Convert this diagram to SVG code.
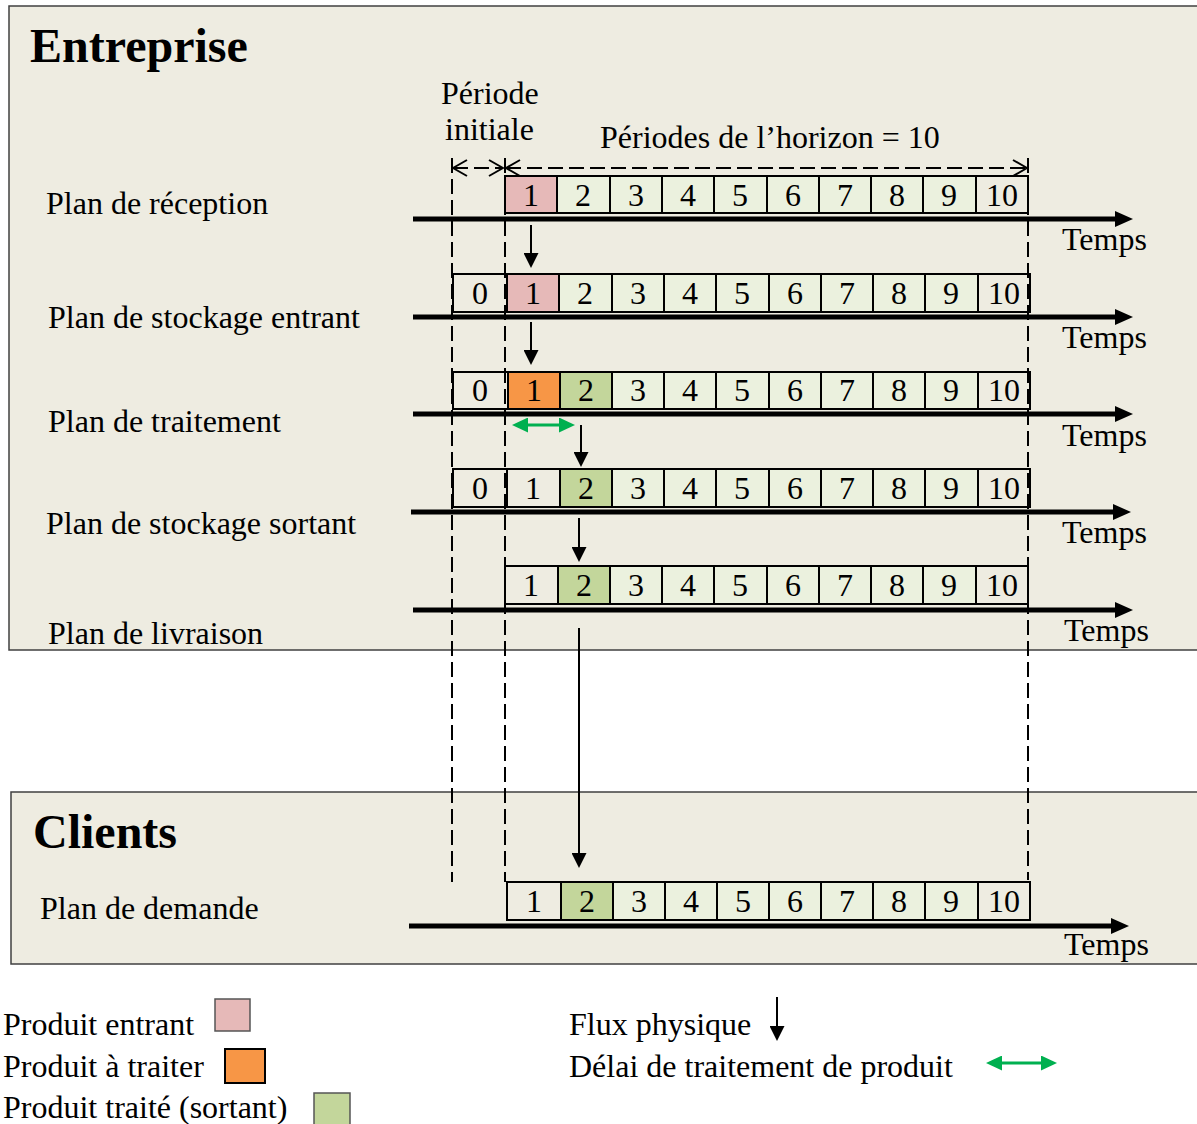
<svg xmlns="http://www.w3.org/2000/svg" width="1197" height="1124" viewBox="0 0 1197 1124" font-family="'Liberation Serif', 'Times New Roman', Tinos, serif">
<style>
text{font-family:'Liberation Serif','Times New Roman',Tinos,serif;fill:#000}
.t{font-size:32px}
.h{font-size:48px;font-weight:bold}
.d{font-size:32px;text-anchor:middle}
.c{stroke:#000;stroke-width:2}
.bg{fill:#EEECE1}
.pg{fill:#EBF1DE}
.pk{fill:#E6B9B8}
.or{fill:#F79646}
.gr{fill:#C3D69B}
.ax{stroke:#000;stroke-width:5;fill:none}
.ds{stroke:#000;stroke-width:2;stroke-dasharray:15 6;fill:none}
.fl{stroke:#000;stroke-width:2;fill:none}
</style>
<defs>
<marker id="ah" markerWidth="18" markerHeight="16" refX="0" refY="8" orient="auto" markerUnits="userSpaceOnUse">
<path d="M0,0 L18,8 L0,16 z" fill="#000"/>
</marker>
<marker id="fa" markerWidth="15" markerHeight="15" refX="0" refY="7.5" orient="auto" markerUnits="userSpaceOnUse">
<path d="M0,0 L15,7.5 L0,15 z" fill="#000"/>
</marker>
<marker id="ga" markerWidth="16" markerHeight="15" refX="0" refY="7.5" orient="auto-start-reverse" markerUnits="userSpaceOnUse">
<path d="M0,0 L16,7.5 L0,15 z" fill="#00B050"/>
</marker>
<marker id="oa" markerWidth="16" markerHeight="20" refX="15" refY="10" orient="auto-start-reverse" markerUnits="userSpaceOnUse">
<path d="M1,2 L15,10 L1,18" fill="none" stroke="#000" stroke-width="2"/>
</marker>
</defs>

<g id="panel-entreprise">
<rect x="9" y="6" width="1200" height="644" fill="#EEECE1" stroke="#404040" stroke-width="1.5"/>
<text class="h" x="30" y="62">Entreprise</text>
</g>
<g id="panel-clients">
<rect x="11" y="792" width="1200" height="172" fill="#EEECE1" stroke="#404040" stroke-width="1.5"/>
<text class="h" x="33" y="848">Clients</text>
</g>

<g id="header">
<text class="t" x="441" y="104">Période</text>
<text class="t" x="445" y="140">initiale</text>
<text class="t" x="600" y="148">Périodes de l’horizon = 10</text>
</g>

<g id="row-reception">
<text class="t" x="46" y="214">Plan de réception</text>
<rect class="c pk" x="505" y="176" width="52" height="37"/>
<rect class="c pg" x="557" y="176" width="53" height="37"/>
<rect class="c pg" x="610" y="176" width="52" height="37"/>
<rect class="c pg" x="662" y="176" width="52" height="37"/>
<rect class="c pg" x="714" y="176" width="53" height="37"/>
<rect class="c pg" x="767" y="176" width="52" height="37"/>
<rect class="c pg" x="819" y="176" width="52" height="37"/>
<rect class="c pg" x="871" y="176" width="52" height="37"/>
<rect class="c pg" x="923" y="176" width="53" height="37"/>
<rect class="c bg" x="976" y="176" width="52" height="37"/>
<text class="d" x="531" y="206">1</text><text class="d" x="583" y="206">2</text><text class="d" x="636" y="206">3</text><text class="d" x="688" y="206">4</text><text class="d" x="740" y="206">5</text><text class="d" x="793" y="206">6</text><text class="d" x="845" y="206">7</text><text class="d" x="897" y="206">8</text><text class="d" x="949" y="206">9</text><text class="d" x="1002" y="206">10</text>
<line class="ax" x1="413" y1="219" x2="1115" y2="219" marker-end="url(#ah)"/>
<text class="t" x="1062" y="250">Temps</text>
</g>

<g id="row-stockage-entrant">
<text class="t" x="48" y="328">Plan de stockage entrant</text>
<rect class="c bg" x="453" y="274" width="54" height="38"/>
<rect class="c pk" x="507" y="274" width="52" height="38"/>
<rect class="c pg" x="559" y="274" width="53" height="38"/>
<rect class="c pg" x="612" y="274" width="52" height="38"/>
<rect class="c pg" x="664" y="274" width="52" height="38"/>
<rect class="c pg" x="716" y="274" width="53" height="38"/>
<rect class="c pg" x="769" y="274" width="52" height="38"/>
<rect class="c pg" x="821" y="274" width="52" height="38"/>
<rect class="c pg" x="873" y="274" width="52" height="38"/>
<rect class="c pg" x="925" y="274" width="53" height="38"/>
<rect class="c bg" x="978" y="274" width="52" height="38"/>
<text class="d" x="480" y="304">0</text><text class="d" x="533" y="304">1</text><text class="d" x="585" y="304">2</text><text class="d" x="638" y="304">3</text><text class="d" x="690" y="304">4</text><text class="d" x="742" y="304">5</text><text class="d" x="795" y="304">6</text><text class="d" x="847" y="304">7</text><text class="d" x="899" y="304">8</text><text class="d" x="951" y="304">9</text><text class="d" x="1004" y="304">10</text>
<line class="ax" x1="413" y1="317" x2="1115" y2="317" marker-end="url(#ah)"/>
<text class="t" x="1062" y="348">Temps</text>
</g>

<g id="row-traitement">
<text class="t" x="48" y="432">Plan de traitement</text>
<rect class="c bg" x="453" y="372" width="55" height="37"/>
<rect class="c or" x="508" y="372" width="52" height="37"/>
<rect class="c gr" x="560" y="372" width="52" height="37"/>
<rect class="c pg" x="612" y="372" width="52" height="37"/>
<rect class="c pg" x="664" y="372" width="52" height="37"/>
<rect class="c pg" x="716" y="372" width="53" height="37"/>
<rect class="c pg" x="769" y="372" width="52" height="37"/>
<rect class="c pg" x="821" y="372" width="52" height="37"/>
<rect class="c pg" x="873" y="372" width="52" height="37"/>
<rect class="c pg" x="925" y="372" width="53" height="37"/>
<rect class="c bg" x="978" y="372" width="52" height="37"/>
<text class="d" x="480" y="401">0</text><text class="d" x="534" y="401">1</text><text class="d" x="586" y="401">2</text><text class="d" x="638" y="401">3</text><text class="d" x="690" y="401">4</text><text class="d" x="742" y="401">5</text><text class="d" x="795" y="401">6</text><text class="d" x="847" y="401">7</text><text class="d" x="899" y="401">8</text><text class="d" x="951" y="401">9</text><text class="d" x="1004" y="401">10</text>
<line class="ax" x1="413" y1="414" x2="1115" y2="414" marker-end="url(#ah)"/>
<text class="t" x="1062" y="446">Temps</text>
</g>

<g id="row-stockage-sortant">
<text class="t" x="46" y="534">Plan de stockage sortant</text>
<rect class="c bg" x="453" y="469" width="54" height="38"/>
<rect class="c bg" x="507" y="469" width="53" height="38"/>
<rect class="c gr" x="560" y="469" width="52" height="38"/>
<rect class="c pg" x="612" y="469" width="52" height="38"/>
<rect class="c pg" x="664" y="469" width="52" height="38"/>
<rect class="c pg" x="716" y="469" width="53" height="38"/>
<rect class="c pg" x="769" y="469" width="52" height="38"/>
<rect class="c pg" x="821" y="469" width="52" height="38"/>
<rect class="c pg" x="873" y="469" width="52" height="38"/>
<rect class="c pg" x="925" y="469" width="53" height="38"/>
<rect class="c bg" x="978" y="469" width="52" height="38"/>
<text class="d" x="480" y="499">0</text><text class="d" x="533" y="499">1</text><text class="d" x="586" y="499">2</text><text class="d" x="638" y="499">3</text><text class="d" x="690" y="499">4</text><text class="d" x="742" y="499">5</text><text class="d" x="795" y="499">6</text><text class="d" x="847" y="499">7</text><text class="d" x="899" y="499">8</text><text class="d" x="951" y="499">9</text><text class="d" x="1004" y="499">10</text>
<line class="ax" x1="411" y1="512" x2="1113" y2="512" marker-end="url(#ah)"/>
<text class="t" x="1062" y="543">Temps</text>
</g>

<g id="row-livraison">
<text class="t" x="48" y="644">Plan de livraison</text>
<rect class="c bg" x="505" y="566" width="53" height="38"/>
<rect class="c gr" x="558" y="566" width="52" height="38"/>
<rect class="c pg" x="610" y="566" width="52" height="38"/>
<rect class="c pg" x="662" y="566" width="52" height="38"/>
<rect class="c pg" x="714" y="566" width="53" height="38"/>
<rect class="c pg" x="767" y="566" width="52" height="38"/>
<rect class="c pg" x="819" y="566" width="52" height="38"/>
<rect class="c pg" x="871" y="566" width="52" height="38"/>
<rect class="c pg" x="923" y="566" width="53" height="38"/>
<rect class="c bg" x="976" y="566" width="52" height="38"/>
<text class="d" x="531" y="596">1</text><text class="d" x="584" y="596">2</text><text class="d" x="636" y="596">3</text><text class="d" x="688" y="596">4</text><text class="d" x="740" y="596">5</text><text class="d" x="793" y="596">6</text><text class="d" x="845" y="596">7</text><text class="d" x="897" y="596">8</text><text class="d" x="949" y="596">9</text><text class="d" x="1002" y="596">10</text>
<line class="ax" x1="413" y1="610" x2="1115" y2="610" marker-end="url(#ah)"/>
<text class="t" x="1064" y="641">Temps</text>
</g>

<g id="row-demande">
<text class="t" x="40" y="919">Plan de demande</text>
<rect class="c bg" x="507" y="882" width="54" height="38"/>
<rect class="c gr" x="561" y="882" width="52" height="38"/>
<rect class="c pg" x="613" y="882" width="52" height="38"/>
<rect class="c pg" x="665" y="882" width="52" height="38"/>
<rect class="c pg" x="717" y="882" width="52" height="38"/>
<rect class="c pg" x="769" y="882" width="52" height="38"/>
<rect class="c pg" x="821" y="882" width="52" height="38"/>
<rect class="c pg" x="873" y="882" width="52" height="38"/>
<rect class="c pg" x="925" y="882" width="53" height="38"/>
<rect class="c bg" x="978" y="882" width="52" height="38"/>
<text class="d" x="534" y="912">1</text><text class="d" x="587" y="912">2</text><text class="d" x="639" y="912">3</text><text class="d" x="691" y="912">4</text><text class="d" x="743" y="912">5</text><text class="d" x="795" y="912">6</text><text class="d" x="847" y="912">7</text><text class="d" x="899" y="912">8</text><text class="d" x="951" y="912">9</text><text class="d" x="1004" y="912">10</text>
<line class="ax" x1="409" y1="926" x2="1111" y2="926" marker-end="url(#ah)"/>
<text class="t" x="1064" y="955">Temps</text>
</g>

<g id="connectors">
<line class="ds" x1="452" y1="158" x2="452" y2="882"/>
<line class="ds" x1="505" y1="158" x2="505" y2="882"/>
<line class="ds" x1="1028" y1="158" x2="1028" y2="880"/>
<line class="ds" x1="453" y1="168" x2="503" y2="168" marker-start="url(#oa)" marker-end="url(#oa)"/>
<line class="ds" x1="506" y1="168" x2="1027" y2="168" marker-start="url(#oa)" marker-end="url(#oa)"/>
<line class="fl" x1="531" y1="225" x2="531" y2="253" marker-end="url(#fa)"/>
<line class="fl" x1="531" y1="322" x2="531" y2="350" marker-end="url(#fa)"/>
<line class="fl" x1="581" y1="425" x2="581" y2="452" marker-end="url(#fa)"/>
<line class="fl" x1="579" y1="518" x2="579" y2="547" marker-end="url(#fa)"/>
<line class="fl" x1="579" y1="628" x2="579" y2="853" marker-end="url(#fa)"/>
<line x1="528" y1="425" x2="559" y2="425" stroke="#00B050" stroke-width="3" marker-start="url(#ga)" marker-end="url(#ga)"/>
</g>

<g id="legend">
<text class="t" x="3" y="1035">Produit entrant</text>
<rect x="215" y="999" width="35" height="32" class="pk" stroke="#555" stroke-width="1.5"/>
<text class="t" x="3" y="1077">Produit à traiter</text>
<rect x="225" y="1049" width="40" height="34" class="or" stroke="#000" stroke-width="2"/>
<text class="t" x="3" y="1118">Produit traité (sortant)</text>
<rect x="314" y="1093" width="36" height="33" class="gr" stroke="#555" stroke-width="1.5"/>
<text class="t" x="569" y="1035">Flux physique</text>
<line class="fl" x1="777" y1="997" x2="777" y2="1026" marker-end="url(#fa)"/>
<text class="t" x="569" y="1077">Délai de traitement de produit</text>
<line x1="1002" y1="1063" x2="1041" y2="1063" stroke="#00B050" stroke-width="3" marker-start="url(#ga)" marker-end="url(#ga)"/>
</g>
</svg>
